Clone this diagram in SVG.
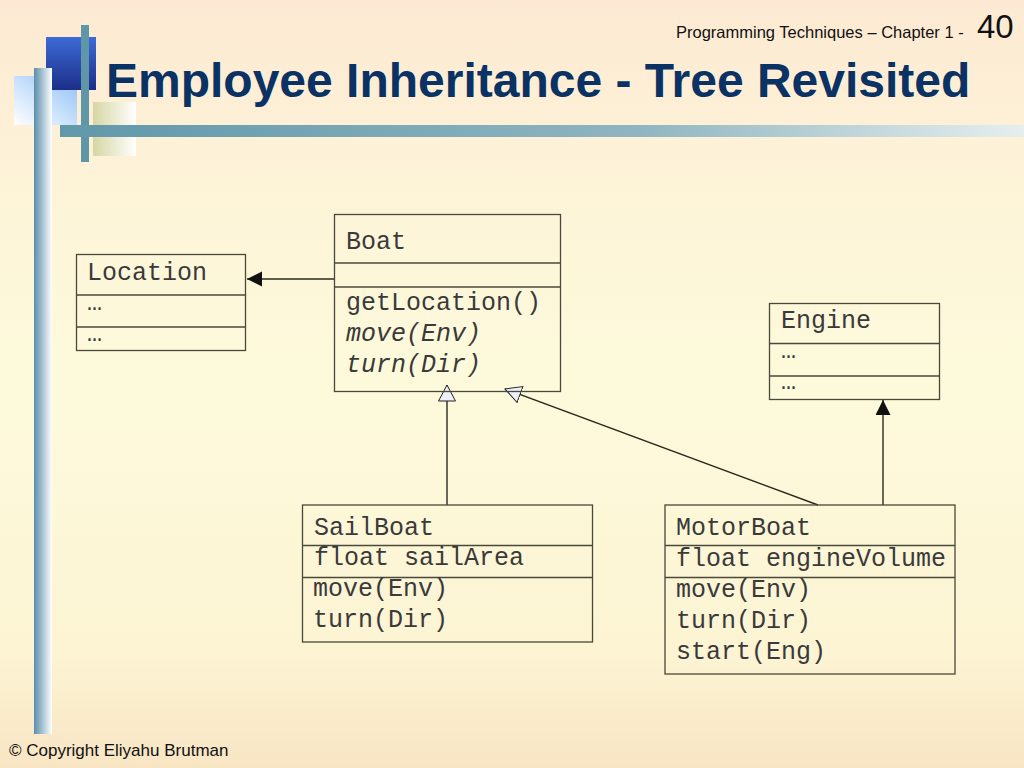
<svg xmlns="http://www.w3.org/2000/svg" width="1024" height="768" viewBox="0 0 1024 768">
<defs>
<linearGradient id="bg" x1="0" y1="0" x2="0" y2="1">
<stop offset="0" stop-color="#fde9d3"/>
<stop offset="0.25" stop-color="#fdf4d8"/>
<stop offset="0.5" stop-color="#fdfadc"/>
<stop offset="0.85" stop-color="#fcf4d3"/>
<stop offset="1" stop-color="#f8e5c4"/>
</linearGradient>
<linearGradient id="blueSq" x1="0" y1="0" x2="0" y2="1">
<stop offset="0" stop-color="#3d6ad6"/>
<stop offset="1" stop-color="#1c2f88"/>
</linearGradient>
<linearGradient id="lightSq" x1="1" y1="0" x2="0" y2="1">
<stop offset="0" stop-color="#8fc0f8"/>
<stop offset="1" stop-color="#ffffff"/>
</linearGradient>
<linearGradient id="vbar" x1="0" y1="0" x2="1" y2="0">
<stop offset="0" stop-color="#5a8eaa"/>
<stop offset="1" stop-color="#ffffff"/>
</linearGradient>
<linearGradient id="oliveSq" x1="0" y1="0" x2="1" y2="0">
<stop offset="0" stop-color="#d6d6a4"/>
<stop offset="1" stop-color="#ffffff"/>
</linearGradient>
<linearGradient id="hbar" x1="0" y1="0" x2="1" y2="0">
<stop offset="0" stop-color="#6198aa"/>
<stop offset="0.6" stop-color="#8fb5c0"/>
<stop offset="1" stop-color="#e6eeee"/>
</linearGradient>
<marker id="filled" markerUnits="userSpaceOnUse" markerWidth="16" markerHeight="16" viewBox="0 0 16 16" refX="15" refY="7.5" orient="auto">
<path d="M0,0 L15,7.5 L0,15 z" fill="#111"/>
</marker>
<marker id="hollow" markerUnits="userSpaceOnUse" markerWidth="18" markerHeight="20" viewBox="0 0 18 20" refX="16.5" refY="9.5" orient="auto">
<path d="M0.5,1 L16.5,9.5 L0.5,18 z" fill="#eeeef8" stroke="#222" stroke-width="1"/>
</marker>
</defs>
<style>
.box{fill:none;stroke:#4a4838;stroke-width:1.3}
.div{stroke:#4a4838;stroke-width:1.3}
.t{font-family:"Liberation Mono","Courier New",monospace;font-size:25px;fill:#3a3a3a}
.i{font-style:italic}
.conn{stroke:#2a2a1e;stroke-width:1.4;fill:none}
</style>
<rect width="1024" height="768" fill="url(#bg)"/>
<g id="decoration">
<rect x="14" y="76" width="63" height="49" fill="url(#lightSq)"/>
<rect x="46" y="37" width="50" height="53" fill="url(#blueSq)"/>
<rect x="34" y="68" width="18" height="666" fill="url(#vbar)"/>
<rect x="93" y="102" width="43" height="54" fill="url(#oliveSq)"/>
<rect x="81" y="25" width="8" height="137" fill="#5f96a8"/>
<rect x="60" y="125" width="964" height="12" fill="url(#hbar)"/>
</g>
<g id="header">
<text x="676" y="38" font-family="Liberation Sans, Arial, sans-serif" font-size="16.5" fill="#111">Programming Techniques – Chapter 1 - </text>
<text x="977" y="38" font-family="Liberation Sans, Arial, sans-serif" font-size="33" fill="#111">40</text>
<text x="106" y="97" font-family="Liberation Sans, Arial, sans-serif" font-size="48" font-weight="bold" fill="#0a3264">Employee Inheritance - Tree Revisited</text>
<text x="9" y="756" font-family="Liberation Sans, Arial, sans-serif" font-size="17" fill="#111">© Copyright Eliyahu Brutman</text>
</g>
<g id="connectors">
<line class="conn" x1="334" y1="279" x2="247" y2="279" marker-end="url(#filled)"/>
<line class="conn" x1="447" y1="505" x2="447" y2="385" marker-end="url(#hollow)" stroke-width="1.2"/>
<line class="conn" x1="818" y1="505" x2="505" y2="389" marker-end="url(#hollow)" stroke-width="1.2"/>
<line class="conn" x1="883" y1="505" x2="883" y2="400" marker-end="url(#filled)"/>
</g>
<g id="Location">
<rect class="box" x="76.5" y="254.5" width="169" height="96"/>
<line class="div" x1="76.5" y1="295" x2="245.5" y2="295"/>
<line class="div" x1="76.5" y1="327" x2="245.5" y2="327"/>
<text class="t" x="87" y="280">Location</text>
<text class="t" x="87" y="310">…</text>
<text class="t" x="87" y="341">…</text>
</g>
<g id="Boat">
<rect class="box" x="334.5" y="214.5" width="226" height="177"/>
<line class="div" x1="334.5" y1="263" x2="560.5" y2="263"/>
<line class="div" x1="334.5" y1="287" x2="560.5" y2="287"/>
<text class="t" x="346" y="249">Boat</text>
<text class="t" x="346" y="310">getLocation()</text>
<text class="t i" x="346" y="341">move(Env)</text>
<text class="t i" x="346" y="372">turn(Dir)</text>
</g>
<g id="Engine">
<rect class="box" x="769.5" y="303.5" width="170" height="96"/>
<line class="div" x1="769.5" y1="343.5" x2="939.5" y2="343.5"/>
<line class="div" x1="769.5" y1="376" x2="939.5" y2="376"/>
<text class="t" x="781" y="328">Engine</text>
<text class="t" x="781" y="358">…</text>
<text class="t" x="781" y="389">…</text>
</g>
<g id="SailBoat">
<rect class="box" x="302.5" y="505" width="290" height="137"/>
<line class="div" x1="302.5" y1="545.5" x2="592.5" y2="545.5"/>
<line class="div" x1="302.5" y1="577.5" x2="592.5" y2="577.5"/>
<text class="t" x="314" y="535">SailBoat</text>
<text class="t" x="314" y="565">float sailArea</text>
<text class="t" x="313" y="596">move(Env)</text>
<text class="t" x="313" y="627">turn(Dir)</text>
</g>
<g id="MotorBoat">
<rect class="box" x="665" y="505" width="290" height="169"/>
<line class="div" x1="665" y1="545.5" x2="955" y2="545.5"/>
<line class="div" x1="665" y1="577.5" x2="955" y2="577.5"/>
<text class="t" x="676" y="535">MotorBoat</text>
<text class="t" x="676" y="566">float engineVolume</text>
<text class="t" x="676" y="597">move(Env)</text>
<text class="t" x="676" y="628">turn(Dir)</text>
<text class="t" x="676" y="659">start(Eng)</text>
</g>
</svg>
